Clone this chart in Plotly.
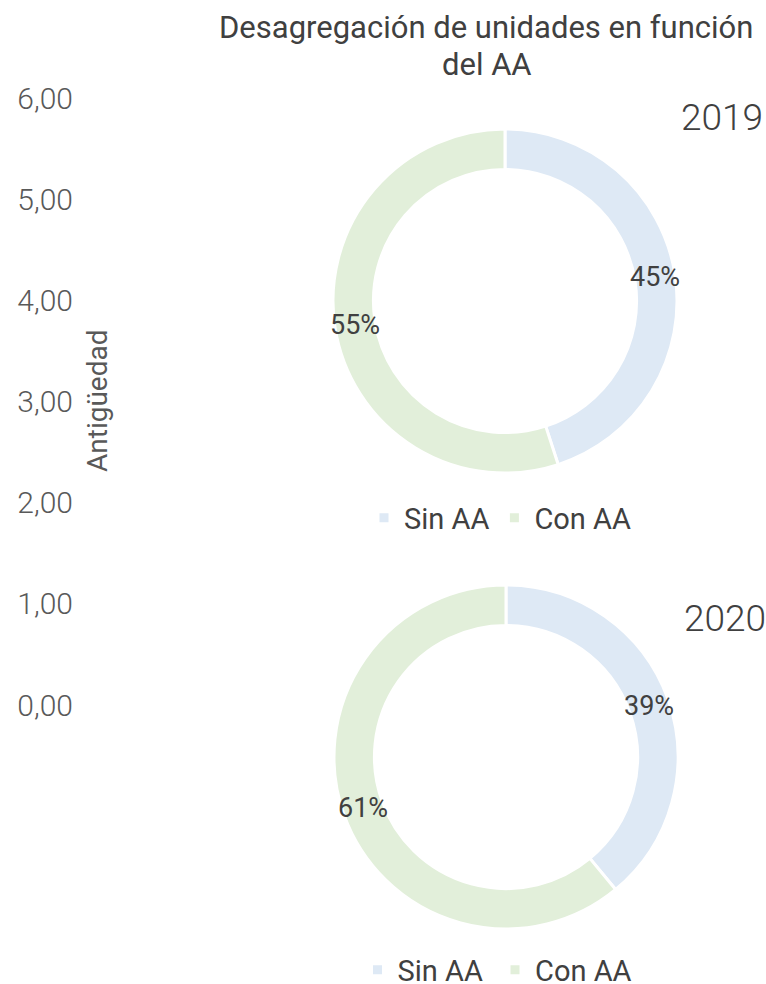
import math
import plotly.graph_objects as go

categories_2019 = ["Sin AA", "Con AA"]
categories_2020 = ["Sin AA ", "Con AA "]  # separate legend entries for the 2nd chart
values_2019 = [45, 55]
values_2020 = [39, 61]
years = ["2019", "2020"]
y_ticks = [0, 1, 2, 3, 4, 5, 6]
y_tick_labels = ["0,00", "1,00", "2,00", "3,00", "4,00", "5,00", "6,00"]
colors = ["#DEE9F5", "#E2EFDA"]

W, H = 766, 984
TXT = "#404040"
FONT = "Roboto"
HOLE = 0.765


def px(x):
    return x / W


def py(y):
    return 1 - y / H


fig = go.Figure()

# dummy axis trace for the left "Antigüedad" axis
fig.add_trace(go.Scatter(x=[], y=[], showlegend=False, hoverinfo="skip"))

annotations = []


def add_pie(labels, vals, cx, cy, r, legend):
    fig.add_trace(go.Pie(
        labels=labels, values=vals, hole=HOLE, sort=False,
        direction="clockwise", rotation=0,
        marker=dict(colors=colors, line=dict(color="white", width=3)),
        textinfo="none",
        domain=dict(x=[px(cx - r), px(cx + r)], y=[py(cy + r), py(cy - r)]),
        legend=legend, hoverinfo="label+percent",
    ))
    # percentage labels at each slice's mid-angle, on the ring's mid radius
    total = sum(vals)
    start = 0.0
    rmid = r * (1 + HOLE) / 2
    for v in vals:
        ang = 2 * math.pi * (start + v / 2) / total
        lx = cx + rmid * math.sin(ang)
        ly = cy - rmid * math.cos(ang)
        annotations.append(dict(
            text=f"{round(100 * v / total)}%", x=px(lx), y=py(ly),
            xref="paper", yref="paper", xanchor="center", yanchor="middle",
            showarrow=False, font=dict(family=FONT, size=27, color=TXT)))
        start += v


add_pie(categories_2019, values_2019, 505, 301, 172, "legend")
add_pie(categories_2020, values_2020, 506, 757, 172, "legend2")

annotations += [
    dict(text="Desagregación de unidades en función",
         x=px(486), y=py(27), xref="paper", yref="paper",
         xanchor="center", yanchor="middle", showarrow=False,
         font=dict(family=FONT, size=31, color=TXT)),
    dict(text="del AA",
         x=px(487), y=py(64), xref="paper", yref="paper",
         xanchor="center", yanchor="middle", showarrow=False,
         font=dict(family=FONT, size=31, color=TXT)),
    dict(text="Antigüedad", x=px(98), y=py(401), xref="paper", yref="paper",
         xanchor="center", yanchor="middle", textangle=-90, showarrow=False,
         font=dict(family=FONT, size=28, color="#595959")),
    dict(text=years[0], x=px(722), y=py(118), xref="paper", yref="paper",
         xanchor="center", yanchor="middle",
         showarrow=False, font=dict(family=FONT, size=37, color=TXT, weight=300)),
    dict(text=years[1], x=px(725), y=py(618), xref="paper", yref="paper",
         xanchor="center", yanchor="middle",
         showarrow=False, font=dict(family=FONT, size=37, color=TXT, weight=300)),
]

fig.update_layout(
    width=W, height=H,
    margin=dict(l=0, r=0, t=0, b=0, autoexpand=False),
    paper_bgcolor="white", plot_bgcolor="white",
    xaxis=dict(visible=False, domain=[px(74), 0.3]),
    yaxis=dict(range=[0, 6], domain=[py(705), py(98)],
               tickvals=y_ticks, ticktext=y_tick_labels,
               showgrid=False, zeroline=False, showline=False, ticks="",
               tickfont=dict(family=FONT, size=30, color="#595959", weight=300)),
    legend=dict(orientation="h", x=px(500), xanchor="center",
                y=py(518), yanchor="middle",
                font=dict(family=FONT, size=29, color=TXT),
                bgcolor="rgba(0,0,0,0)"),
    legend2=dict(orientation="h", x=px(501), xanchor="center",
                 y=py(970), yanchor="middle",
                 font=dict(family=FONT, size=29, color=TXT),
                 bgcolor="rgba(0,0,0,0)"),
    annotations=annotations,
)

fig.write_html(
    "out.html",
    config={"displayModeBar": False},
    post_script="document.body.style.margin='0';document.body.style.overflow='hidden';",
)
